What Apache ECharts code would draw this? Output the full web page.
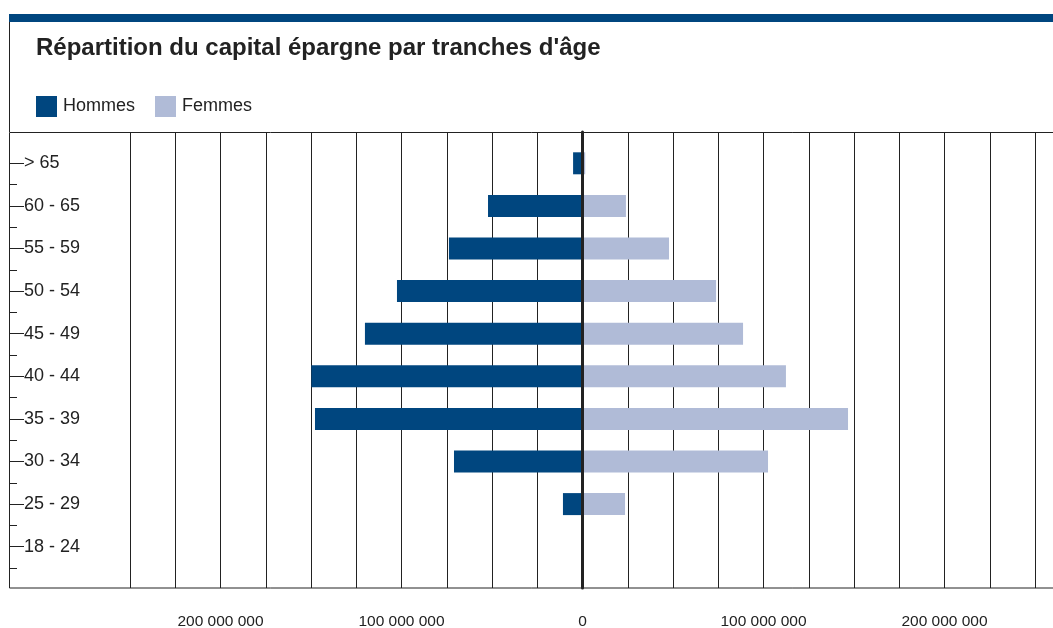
<!DOCTYPE html>
<html>
<head>
<meta charset="utf-8">
<title>Répartition du capital épargne par tranches d'âge</title>
<script src="https://cdn.jsdelivr.net/npm/echarts@6/dist/echarts.min.js"></script>
<style>
  html, body { margin: 0; padding: 0; background: #fff; }
  #chart { width: 1053px; height: 628px; }
</style>
</head>
<body>
<div id="chart"></div>
<script>
// tranches d'âge, de haut en bas
const tranches = ['> 65', '60 - 65', '55 - 59', '50 - 54', '45 - 49', '40 - 44', '35 - 39', '30 - 34', '25 - 29', '18 - 24']
// capital en euros
const hommes = [5200000, 52200000, 73800000, 102500000, 120200000, 149800000, 147800000, 71000000, 10800000, 0]
const femmes = [1500000, 24000000, 47800000, 73800000, 88700000, 112400000, 146700000, 102500000, 23500000, 0]
// graduations de l'axe horizontal
const axeMin = -250000000
const axeMax = 250000000
const pas = 25000000
const pasLibelle = 100000000

const bleu = '#00467f'
const bleuClair = '#b0bbd7'
const trait = '#222'
const police = 'Liberation Sans, Arial, sans-serif'

// 200000000 -> "200 000 000"
function formatNombre (v) {
  if (v % pasLibelle !== 0) return ''
  return String(Math.abs(v)).replace(/\B(?=(\d{3})+(?!\d))/g, ' ')
}

const chart = echarts.init(document.getElementById('chart'))

const option = {
  backgroundColor: '#fff',
  animation: false,
  title: {
    text: "Répartition du capital épargne par tranches d'âge",
    left: 36,
    top: 36,
    padding: 0,
    textStyle: {
      fontFamily: police,
      fontSize: 24,
      fontWeight: 'bold',
      color: trait
    }
  },
  legend: {
    left: 36,
    top: 96,
    padding: 0,
    itemWidth: 21,
    itemHeight: 21,
    itemGap: 20,
    icon: 'rect',
    textStyle: {
      fontFamily: police,
      fontSize: 18,
      color: trait,
      padding: [2, 0, 0, 1]
    },
    data: ['Hommes', 'Femmes']
  },
  // cadre et bandeau du haut
  graphic: [
    { type: 'rect', shape: { x: 9, y: 14, width: 1060, height: 8 }, style: { fill: bleu } },
    { type: 'line', shape: { x1: 9.5, y1: 22, x2: 9.5, y2: 132 }, style: { stroke: trait, lineWidth: 1 } },
    { type: 'rect', shape: { x: 9.5, y: 132.5, width: 1060, height: 455.5 }, style: { fill: 'none', stroke: trait, lineWidth: 1 }, z: 10 }
  ],
  grid: [
    // grille des barres (zone des catégories)
    { left: 130, right: 18, top: 142, bottom: 60, outerBoundsMode: 'none' },
    // grille du cadre (quadrillage vertical et libellés)
    { left: 130, right: 18, top: 132, bottom: 40, outerBoundsMode: 'none' }
  ],
  xAxis: [
    {
      gridIndex: 0,
      type: 'value',
      min: axeMin,
      max: axeMax,
      interval: pas,
      show: false
    },
    {
      gridIndex: 1,
      type: 'value',
      min: axeMin,
      max: axeMax,
      interval: pas,
      axisLine: { show: false },
      axisTick: { show: false },
      splitLine: { show: true, lineStyle: { color: trait, width: 1 } },
      axisLabel: {
        margin: 26,
        fontFamily: police,
        fontSize: 15.5,
        color: trait,
        formatter: formatNombre,
        showMinLabel: false,
        showMaxLabel: false
      }
    }
  ],
  yAxis: [
    {
      gridIndex: 0,
      type: 'category',
      inverse: true,
      data: tranches,
      position: 'left',
      offset: 121,
      axisLine: { show: false, onZero: false },
      axisTick: { show: true, inside: true, alignWithLabel: true, length: 15, lineStyle: { color: trait } },
      axisLabel: {
        inside: true,
        margin: 15,
        fontFamily: police,
        fontSize: 18,
        color: trait,
        padding: [2, 0, 0, 0]
      }
    },
    {
      // petites graduations entre les tranches
      gridIndex: 0,
      type: 'category',
      inverse: true,
      data: tranches,
      position: 'left',
      offset: 121,
      axisLine: { show: false, onZero: false },
      axisTick: {
        show: true,
        inside: true,
        length: 8,
        interval: function (i) { return i !== 0 },
        lineStyle: { color: trait }
      },
      axisLabel: { show: false }
    },
    {
      // axe du zéro
      gridIndex: 1,
      type: 'value',
      min: 0,
      max: 1,
      z: 5,
      axisLine: { show: true, onZero: true, lineStyle: { color: trait, width: 3 } },
      axisTick: { show: false },
      axisLabel: { show: false },
      splitLine: { show: false }
    }
  ],
  series: [
    {
      name: 'Hommes',
      type: 'bar',
      xAxisIndex: 0,
      yAxisIndex: 0,
      barWidth: 22,
      barGap: '-100%',
      itemStyle: { color: bleu },
      data: hommes.map(v => -v)
    },
    {
      name: 'Femmes',
      type: 'bar',
      xAxisIndex: 0,
      yAxisIndex: 0,
      barWidth: 22,
      barGap: '-100%',
      itemStyle: { color: bleuClair },
      data: femmes
    }
  ]
}

chart.setOption(option)
</script>
</body>
</html>
